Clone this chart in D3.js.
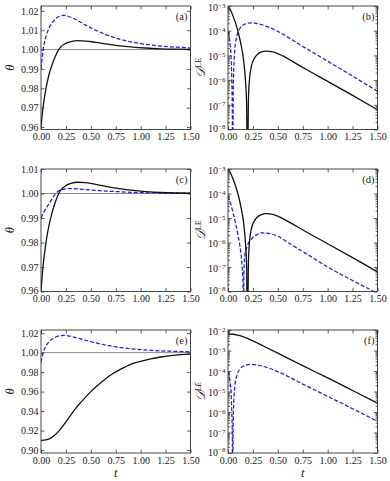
<!DOCTYPE html>
<html><head><meta charset="utf-8">
<script src="https://cdn.jsdelivr.net/npm/d3@7"></script>
<style>
body{margin:0;background:#fff}
svg{display:block;background:#fff}
text{font-family:"Liberation Serif","DejaVu Serif",serif;fill:#222}
</style>
</head><body>
<svg id="c" width="390" height="481"></svg>
<script>
// ---------- data ----------
const tTicks = [0, 0.25, 0.5, 0.75, 1.0, 1.25, 1.5];
const tTickLabels = ["0.00","0.25","0.50","0.75","1.00","1.25","1.50"];
const thetaTicksA = [0.96,0.97,0.98,0.99,1.00,1.01,1.02];
const thetaTicksC = [0.96,0.97,0.98,0.99,1.00,1.01];
const thetaTicksE = [0.90,0.92,0.94,0.96,0.98,1.00,1.02];
const logExpBD = [-8,-7,-6,-5,-4,-3];
const logExpF = [-8,-7,-6,-5,-4,-3,-2];
const panelLabels = ["(a)","(b)","(c)","(d)","(e)","(f)"];

// theta, black solid, panels (a) and (c)
const tBlackThetaAC = [0,0.02,0.05,0.08,0.11,0.14,0.17,0.20,0.25,0.30,0.37,0.45,0.55,0.65,0.75,0.90,1.05,1.20,1.35,1.50];
const blackThetaAC  = [0.960,0.970,0.980,0.987,0.992,0.996,0.9993,1.0015,1.0032,1.0041,1.0046,1.0044,1.0037,1.0029,1.0022,1.0014,1.0008,1.0004,1.0002,1.0001];
// theta, blue dashed, panels (a) and (e)
const tBlueThetaAE = [0,0.01,0.02,0.04,0.06,0.08,0.10,0.13,0.16,0.20,0.23,0.27,0.32,0.40,0.50,0.60,0.70,0.80,0.90,1.00,1.10,1.20,1.30,1.40,1.50];
const blueThetaAE  = [0.990,0.995,0.9995,1.005,1.0085,1.011,1.013,1.015,1.0165,1.0174,1.0176,1.0172,1.0162,1.0140,1.0112,1.0088,1.0068,1.0052,1.0040,1.0031,1.0024,1.0018,1.0014,1.0011,1.0008];
// theta, blue dashed, panel (c)
const tBlueThetaC = [0,0.03,0.06,0.09,0.12,0.15,0.18,0.22,0.28,0.35,0.45,0.55,0.65,0.75,0.90,1.05,1.20,1.50];
const blueThetaC  = [0.990,0.9925,0.9945,0.9965,0.9985,1.0001,1.0011,1.0017,1.0020,1.0019,1.0016,1.0013,1.0010,1.0008,1.0005,1.0003,1.0002,1.0001];
// theta, black solid, panel (e)
const tBlackThetaE = [0,0.03,0.06,0.10,0.15,0.20,0.25,0.30,0.35,0.40,0.50,0.60,0.70,0.80,0.90,1.00,1.10,1.20,1.30,1.40,1.50];
const blackThetaE  = [0.910,0.9102,0.9108,0.9125,0.9165,0.922,0.929,0.936,0.943,0.949,0.960,0.969,0.977,0.983,0.988,0.991,0.9935,0.9955,0.997,0.998,0.9985];

// D^LE, black solid, panels (b) and (d)
const tBlackDBD = [0,0.03,0.055,0.08,0.105,0.13,0.155,0.175,0.187,0.195,0.205,0.215,0.237,0.26,0.29,0.33,0.38,0.45,0.55,0.65,0.80,1.00,1.25,1.50];
const blackDBD  = [1.0e-3,6.3e-4,3.5e-4,1.8e-4,7.9e-5,2.8e-5,7.1e-6,1.0e-6,1.0e-7,0,1.6e-7,1.0e-6,4.0e-6,7.1e-6,1.05e-5,1.35e-5,1.5e-5,1.4e-5,9.5e-6,5.6e-6,2.5e-6,8.9e-7,2.4e-7,6.3e-8];
// D^LE, blue dashed, panels (b) and (f)
const tBlueDBF = [0,0.01,0.02,0.03,0.038,0.043,0.047,0.052,0.058,0.07,0.09,0.12,0.16,0.20,0.23,0.28,0.35,0.42,0.50,0.75,1.00,1.25,1.50];
const blueDBF  = [9.3e-5,6.3e-5,3.2e-5,1.0e-5,1.0e-6,6.3e-8,0,1.6e-7,3.2e-6,2.0e-5,6.3e-5,1.26e-4,1.78e-4,2.04e-4,2.09e-4,2.0e-4,1.7e-4,1.32e-4,9.3e-5,2.3e-5,5.8e-6,1.45e-6,3.5e-7];
// D^LE, blue dashed, panel (d)
const tBlueDD = [0,0.025,0.05,0.075,0.10,0.125,0.14,0.15,0.155,0.16,0.17,0.19,0.24,0.29,0.34,0.42,0.50,0.62,0.80,1.00,1.25,1.50];
const blueDD  = [7.8e-5,4.0e-5,1.7e-5,6.3e-6,2.0e-6,5.0e-7,1.26e-7,2.5e-8,0,6.3e-8,3.2e-7,6.6e-7,1.45e-6,2.1e-6,2.5e-6,2.3e-6,1.8e-6,8.9e-7,3.2e-7,1.0e-7,2.8e-8,8.5e-9];
// D^LE, black solid, panel (f)
const tBlackDF = [0,0.05,0.10,0.15,0.20,0.25,0.30,0.40,0.50,0.75,1.00,1.25,1.50];
const blackDF  = [6.3e-3,6.2e-3,5.6e-3,4.8e-3,3.8e-3,2.95e-3,2.24e-3,1.29e-3,7.4e-4,1.82e-4,4.6e-5,1.12e-5,2.7e-6];

// ---------- layout ----------
const svg = d3.select("#c");
const cols = [[41,190.5],[228,377.5]];
const rows = [[6,129.5],[169,291.5],[330,453]];
const BLUE = "#1a1aff";

const panels = [
  {c:0,r:0,type:"lin",dom:[0.9587,1.0225],ticks:thetaTicksA,
   series:[{t:tBlueThetaAE,v:blueThetaAE,blue:true},{t:tBlackThetaAC,v:blackThetaAC}]},
  {c:1,r:0,type:"log",dom:[1e-8,1e-3],exps:logExpBD,
   series:[{t:tBlueDBF,v:blueDBF,blue:true},{t:tBlackDBD,v:blackDBD}]},
  {c:0,r:1,type:"lin",dom:[0.96,1.01],ticks:thetaTicksC,
   series:[{t:tBlueThetaC,v:blueThetaC,blue:true},{t:tBlackThetaAC,v:blackThetaAC}]},
  {c:1,r:1,type:"log",dom:[1e-8,1e-3],exps:logExpBD,
   series:[{t:tBlueDD,v:blueDD,blue:true},{t:tBlackDBD,v:blackDBD}]},
  {c:0,r:2,type:"lin",dom:[0.897,1.0232],ticks:thetaTicksE,
   series:[{t:tBlueThetaAE,v:blueThetaAE,blue:true},{t:tBlackThetaE,v:blackThetaE}]},
  {c:1,r:2,type:"log",dom:[1e-8,1e-2],exps:logExpF,italicSup:true,
   series:[{t:tBlueDBF,v:blueDBF,blue:true},{t:tBlackDF,v:blackDF}]}
];

const TK = 3.5, TKm = 2;

panels.forEach((p,i)=>{
  const [x0,x1] = cols[p.c], [y0,y1] = rows[p.r];
  const x = d3.scaleLinear().domain([0,1.5]).range([x0,x1]);
  const y = p.type==="lin" ? d3.scaleLinear().domain(p.dom).range([y1,y0])
                           : d3.scaleLog().domain(p.dom).range([y1,y0]);
  const g = svg.append("g");
  const clipId = "clip"+i;
  svg.append("clipPath").attr("id",clipId).append("rect")
     .attr("x",x0).attr("y",y0).attr("width",x1-x0).attr("height",y1-y0);

  if(p.type==="lin"){
    g.append("line").attr("x1",x0).attr("x2",x1).attr("y1",y(1)).attr("y2",y(1))
      .attr("stroke","#8c8c8c").attr("stroke-width",1);
  }
  const plot = g.append("g").attr("clip-path",`url(#${clipId})`);
  p.series.forEach(s=>{
    const pts = s.t.map((t,k)=>[t,s.v[k]]);
    const line = d3.line()
      .x(d=>x(d[0]))
      .y(d=> (p.type==="log" && d[1]<=0) ? y1+60 : y(d[1]))
      .curve(d3.curveMonotoneX);
    plot.append("path").attr("d",line(pts)).attr("fill","none")
      .attr("stroke", s.blue?BLUE:"#111")
      .attr("stroke-width", s.blue?1.25:1.3)
      .attr("stroke-dasharray", s.blue?"4,2":null);
  });

  const fontSize = 10;
  g.append("g").attr("transform",`translate(0,${y1})`)
    .call(d3.axisBottom(x).tickValues(tTicks).tickSize(-TK).tickSizeOuter(0).tickPadding(3.5)
      .tickFormat((d,k)=>tTickLabels[k]));
  g.append("g").attr("transform",`translate(0,${y0})`)
    .call(d3.axisTop(x).tickValues(tTicks).tickSize(-TK).tickSizeOuter(0).tickFormat(""));

  let yl;
  if(p.type==="lin"){
    yl = g.append("g").attr("transform",`translate(${x0},0)`)
      .call(d3.axisLeft(y).tickValues(p.ticks).tickSize(-TK).tickSizeOuter(0).tickPadding(2.5)
        .tickFormat(d3.format(".2f")));
    yl.selectAll(".tick text").filter(d=>Math.abs(y(d)-y1)<1).attr("dy","0.15em");
    g.append("g").attr("transform",`translate(${x1},0)`)
      .call(d3.axisRight(y).tickValues(p.ticks).tickSize(-TK).tickSizeOuter(0).tickFormat(""));
  } else {
    const majors = p.exps.map(e=>Math.pow(10,e));
    const minors = [];
    p.exps.slice(0,-1).forEach(e=>{ for(let m=2;m<=9;m++) minors.push(m*Math.pow(10,e)); });
    yl = g.append("g").attr("transform",`translate(${x0},0)`)
      .call(d3.axisLeft(y).tickValues(majors).tickSize(-TK).tickSizeOuter(0).tickPadding(2.5)
        .tickFormat(""));
    yl.selectAll(".tick text").each(function(d,k){
      const t = d3.select(this).attr("dy", k===0 ? "0.2em" : "0.42em");
      t.append("tspan").text("10");
      t.append("tspan").attr("dy","-0.45em").attr("font-size","7px").text("\u2212"+Math.abs(p.exps[k]));
    });
    g.append("g").attr("transform",`translate(${x0},0)`)
      .call(d3.axisLeft(y).tickValues(minors).tickSize(-TKm).tickSizeOuter(0).tickFormat(""));
    g.append("g").attr("transform",`translate(${x1},0)`)
      .call(d3.axisRight(y).tickValues(majors).tickSize(-TK).tickSizeOuter(0).tickFormat(""));
    g.append("g").attr("transform",`translate(${x1},0)`)
      .call(d3.axisRight(y).tickValues(minors).tickSize(-TKm).tickSizeOuter(0).tickFormat(""));
  }
  g.selectAll(".domain").remove();
  g.selectAll(".tick line").attr("stroke","#333").attr("stroke-width",0.8);
  g.selectAll(".tick text").attr("font-family","Liberation Serif, serif").attr("font-size",fontSize).attr("fill","#333");

  g.append("rect").attr("x",x0).attr("y",y0).attr("width",x1-x0).attr("height",y1-y0)
    .attr("fill","none").attr("stroke","#333").attr("stroke-width",0.9);

  g.append("text").attr("x",x1-3).attr("y",y0+13.5).attr("text-anchor","end")
    .attr("font-size",10.5).attr("fill","#444").text(panelLabels[i]);

  const cy = (y0+y1)/2;
  if(p.type==="lin"){
    g.append("text").attr("transform",`translate(13.5,${cy}) rotate(-90)`)
      .attr("text-anchor","middle").attr("font-style","italic").attr("font-size",12.5).text("\u03b8");
  } else {
    const lbl = g.append("text").attr("transform",`translate(${x0-23},${cy}) rotate(-90)`)
      .attr("text-anchor","middle").attr("font-size",12.5);
    lbl.append("tspan").attr("font-family","DejaVu Serif, serif").attr("font-style","italic").text("\ud835\udc9f");
    lbl.append("tspan").attr("dy","-0.45em").attr("font-size","8px")
      .attr("font-style", p.italicSup?"italic":null).text("LE");
  }
});

[0,1].forEach(c=>{
  const [x0,x1] = cols[c];
  svg.append("text").attr("x",(x0+x1)/2).attr("y",477).attr("text-anchor","middle")
    .attr("font-style","italic").attr("font-size",12.5).text("t");
});
</script>
</body></html>
